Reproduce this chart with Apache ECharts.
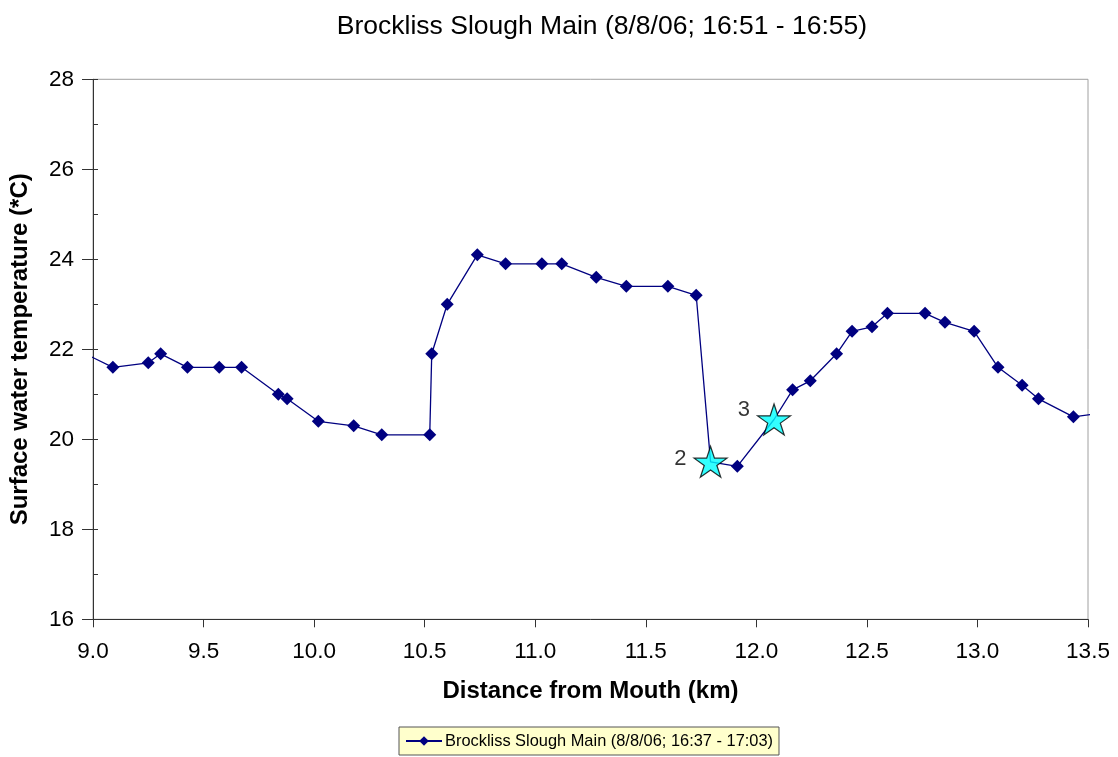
<!DOCTYPE html>
<html>
<head>
<meta charset="utf-8">
<script src="https://cdn.jsdelivr.net/npm/echarts@6/dist/echarts.min.js"></script>
<style>html,body{margin:0;padding:0;background:#fff}#chart{width:1118px;height:757px}</style>
</head>
<body>
<div id="chart"></div>
<script>
// Distance from mouth (km) and surface water temperature (°C).
// First and last entries are where the line leaves the plot (no marker drawn there).
var distance = [8.973, 9.090, 9.250, 9.306, 9.427, 9.571, 9.672, 9.838, 9.878, 10.019,
  10.179, 10.306, 10.523, 10.532, 10.602, 10.738, 10.866, 11.030, 11.120, 11.276,
  11.412, 11.600, 11.728, 11.793, 11.914, 12.080, 12.164, 12.244, 12.363, 12.433,
  12.523, 12.593, 12.763, 12.853, 12.985, 13.093, 13.202, 13.276, 13.434, 13.540];
var temperature = [21.88, 21.6, 21.7, 21.9, 21.6, 21.6, 21.6, 21.0, 20.9, 20.4,
  20.3, 20.1, 20.1, 21.9, 23.0, 24.1, 23.9, 23.9, 23.9, 23.6,
  23.4, 23.4, 23.2, 19.5, 19.4, 20.44, 21.1, 21.3, 21.9, 22.4,
  22.5, 22.8, 22.8, 22.6, 22.4, 21.6, 21.2, 20.9, 20.5, 20.57];
var edgeIndices = [0, 39];
var starIndices = [23, 25];
var starLabels = ['2', '3'];
var xTicks = [9.0, 9.5, 10.0, 10.5, 11.0, 11.5, 12.0, 12.5, 13.0, 13.5];
var yTicks = [16, 18, 20, 22, 24, 26, 28];

var titleText = 'Brockliss Slough Main (8/8/06; 16:51 - 16:55)';
var seriesName = 'Brockliss Slough Main (8/8/06; 16:37 - 17:03)';
var xName = 'Distance from Mouth (km)';
var yName = 'Surface water temperature (*C)';

var FONT = '"Liberation Sans", Arial, sans-serif';
var starPath = 'path://M50 0 L61.23 34.55 L97.55 34.55 L68.17 55.90 L79.39 90.45 L50 69.1 L20.61 90.45 L31.83 55.90 L2.45 34.55 L38.77 34.55 Z';

var lineData = distance.map(function (d, i) {
  var item = { value: [d, temperature[i]] };
  if (edgeIndices.indexOf(i) >= 0 || starIndices.indexOf(i) >= 0) item.symbol = 'none';
  return item;
});
var labelOffsets = [[0, -3], [0, -10]];
var starData = starIndices.map(function (idx, k) {
  return {
    value: [distance[idx], temperature[idx]],
    label: { formatter: starLabels[k], offset: labelOffsets[k] }
  };
});

var chart = echarts.init(document.getElementById('chart'), null, { renderer: 'canvas' });
var yMin = yTicks[0], yMax = yTicks[yTicks.length - 1];
var xMin = xTicks[0], xMax = xTicks[xTicks.length - 1];
chart.setOption({
  backgroundColor: '#ffffff',
  animation: false,
  textStyle: { fontFamily: FONT },
  title: {
    text: titleText,
    left: 597, top: 8, textAlign: 'center',
    textStyle: { fontFamily: FONT, fontSize: 26.5, fontWeight: 'normal', color: '#000' }
  },
  legend: {
    data: [seriesName],
    left: 399, top: 727,
    padding: [6, 6, 6, 6],
    itemWidth: 36, itemHeight: 12,
    itemGap: 4,
    backgroundColor: '#FFFFCC',
    borderColor: '#555555', borderWidth: 1, borderRadius: 0,
    textStyle: { fontFamily: FONT, fontSize: 16.4, color: '#000', padding: [0, 0, 0, -2] }
  },
  grid: {
    left: 92.7, top: 79.3, right: 30, bottom: 137.7,
    show: true, borderColor: '#a0a0a0', borderWidth: 1, backgroundColor: 'transparent'
  },
  xAxis: {
    type: 'value', min: xMin, max: xMax, interval: 0.5,
    name: xName, nameLocation: 'middle', nameGap: 60,
    nameTextStyle: { fontFamily: FONT, fontSize: 24, fontWeight: 'bold', color: '#000' },
    axisLine: { show: true, lineStyle: { color: '#333', width: 1 } },
    axisTick: { show: true, length: 8, lineStyle: { color: '#333' } },
    axisLabel: { fontFamily: FONT, fontSize: 22.5, color: '#000', margin: 21,
      formatter: function (v) { return v.toFixed(1); } },
    splitLine: { show: false }
  },
  yAxis: [{
    type: 'value', min: yMin, max: yMax, interval: 2,
    name: yName, nameLocation: 'middle', nameGap: 61, nameRotate: 90,
    nameTextStyle: { fontFamily: FONT, fontSize: 24, fontWeight: 'bold', color: '#000' },
    axisLine: { show: true, lineStyle: { color: '#333', width: 1 } },
    axisTick: { show: true, length: 11, lineStyle: { color: '#333' } },
    axisLabel: { fontFamily: FONT, fontSize: 22.5, color: '#000', margin: 19 },
    splitLine: { show: false }
  }, {
    type: 'value', min: yMin, max: yMax, interval: 2, position: 'left',
    axisLine: { show: false },
    axisTick: { show: true, inside: true, length: 5, lineStyle: { color: '#333' } },
    minorTick: { show: true, splitNumber: 2, length: 5, lineStyle: { color: '#333' } },
    axisLabel: { show: false },
    splitLine: { show: false }
  }],
  series: [{
    name: seriesName,
    type: 'line',
    data: lineData,
    clip: false,
    symbol: 'diamond',
    symbolSize: 13,
    itemStyle: { color: '#000080' },
    lineStyle: { color: '#000080', width: 1.3 },
    z: 2
  }, {
    name: 'stars',
    type: 'scatter',
    data: starData,
    symbol: starPath,
    symbolSize: [33, 31],
    itemStyle: { color: '#00FFFF', borderColor: '#000', borderWidth: 1.2 },
    label: {
      show: true, position: 'left', distance: 7,
      fontFamily: FONT, fontSize: 22, color: '#000'
    },
    z: 3
  }]
});
</script>
</body>
</html>
